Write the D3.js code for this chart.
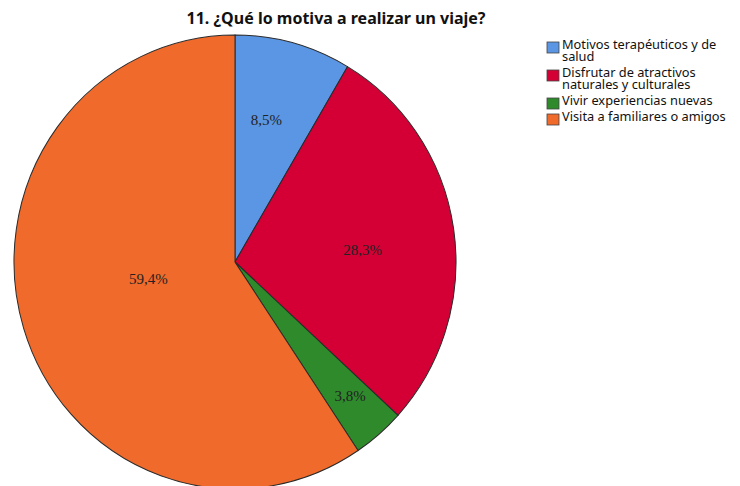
<!DOCTYPE html>
<html>
<head>
<meta charset="utf-8">
<script src="https://cdn.jsdelivr.net/npm/d3@7"></script>
<style>
  body { margin: 0; background: #fff; }
</style>
</head>
<body>
<svg width="740" height="486"></svg>
<script>
// data
var categories = ["Motivos terapéuticos y de salud", "Disfrutar de atractivos naturales y culturales", "Vivir experiencias nuevas", "Visita a familiares o amigos"];
var legendLines = [["Motivos terapéuticos y de", "salud"], ["Disfrutar de atractivos", "naturales y culturales"], ["Vivir experiencias nuevas"], ["Visita a familiares o amigos"]];
var values = [8.5, 28.3, 3.8, 59.4];
var colors = ["#5a96e3", "#d40035", "#2f8a2c", "#f06a2b"];

function main() {
    var svg = d3.select("svg");
    var cx = 235, cy = 262, radius = 221;

    // Title
    svg.append("text")
        .attr("x", 336)
        .attr("y", 24)
        .attr("text-anchor", "middle")
        .attr("font-family", "Noto Sans")
        .attr("font-weight", "bold")
        .attr("font-size", "16px")
        .attr("fill", "#111")
        .text("11. ¿Qué lo motiva a realizar un viaje?");

    var pie = d3.pie().sort(null).value(function(d) { return d; });
    var arcs = pie(values);

    var arc = d3.arc().innerRadius(0).outerRadius(radius);

    // pie is slightly taller than wide in the original
    var g = svg.append("g")
        .attr("transform", "translate(" + cx + "," + cy + ") scale(1,1.027)");

    g.selectAll("path")
        .data(arcs)
        .enter().append("path")
        .attr("d", arc)
        .attr("fill", function(d, i) { return colors[i]; })
        .attr("stroke", "#2a2a2a")
        .attr("stroke-width", 1);

    // labels sit at different depths, like in the original
    var labelDepth = [0.66, 0.58, 0.8, 0.4];
    var labelShift = [-0.05, 0.05, 0, 0.1];
    g.selectAll("text")
        .data(arcs)
        .enter().append("text")
        .attr("transform", function(d, i) {
            var a = (d.startAngle + d.endAngle) / 2 + labelShift[i];
            var r = radius * labelDepth[i];
            return "translate(" + (Math.sin(a) * r) + "," + (-Math.cos(a) * r / 1.027) + ") scale(1," + (1 / 1.027) + ")";
        })
        .attr("text-anchor", "middle")
        .attr("dy", "0.35em")
        .attr("font-family", "Liberation Serif")
        .attr("font-size", "15px")
        .attr("fill", "#222")
        .text(function(d) { return d3.format(".1f")(d.data).replace(".", ",") + "%"; });

    // Legend
    var legend = svg.append("g").attr("transform", "translate(547,42)");
    var rowY = 0;
    legendLines.forEach(function(lines, i) {
        var item = legend.append("g").attr("transform", "translate(0," + rowY + ")");
        item.append("rect")
            .attr("x", 0)
            .attr("y", 0)
            .attr("width", 12)
            .attr("height", 11)
            .attr("fill", colors[i])
            .attr("stroke", "#444")
            .attr("stroke-width", 0.8);
        lines.forEach(function(t, j) {
            item.append("text")
                .attr("x", 15)
                .attr("y", 7 + j * 12)
                .attr("font-family", "Noto Sans")
                .attr("font-size", "12.8px")
                .attr("fill", "#111")
                .text(t);
        });
        rowY += lines.length * 12 + 4;
    });
}
main();
</script>
</body>
</html>
